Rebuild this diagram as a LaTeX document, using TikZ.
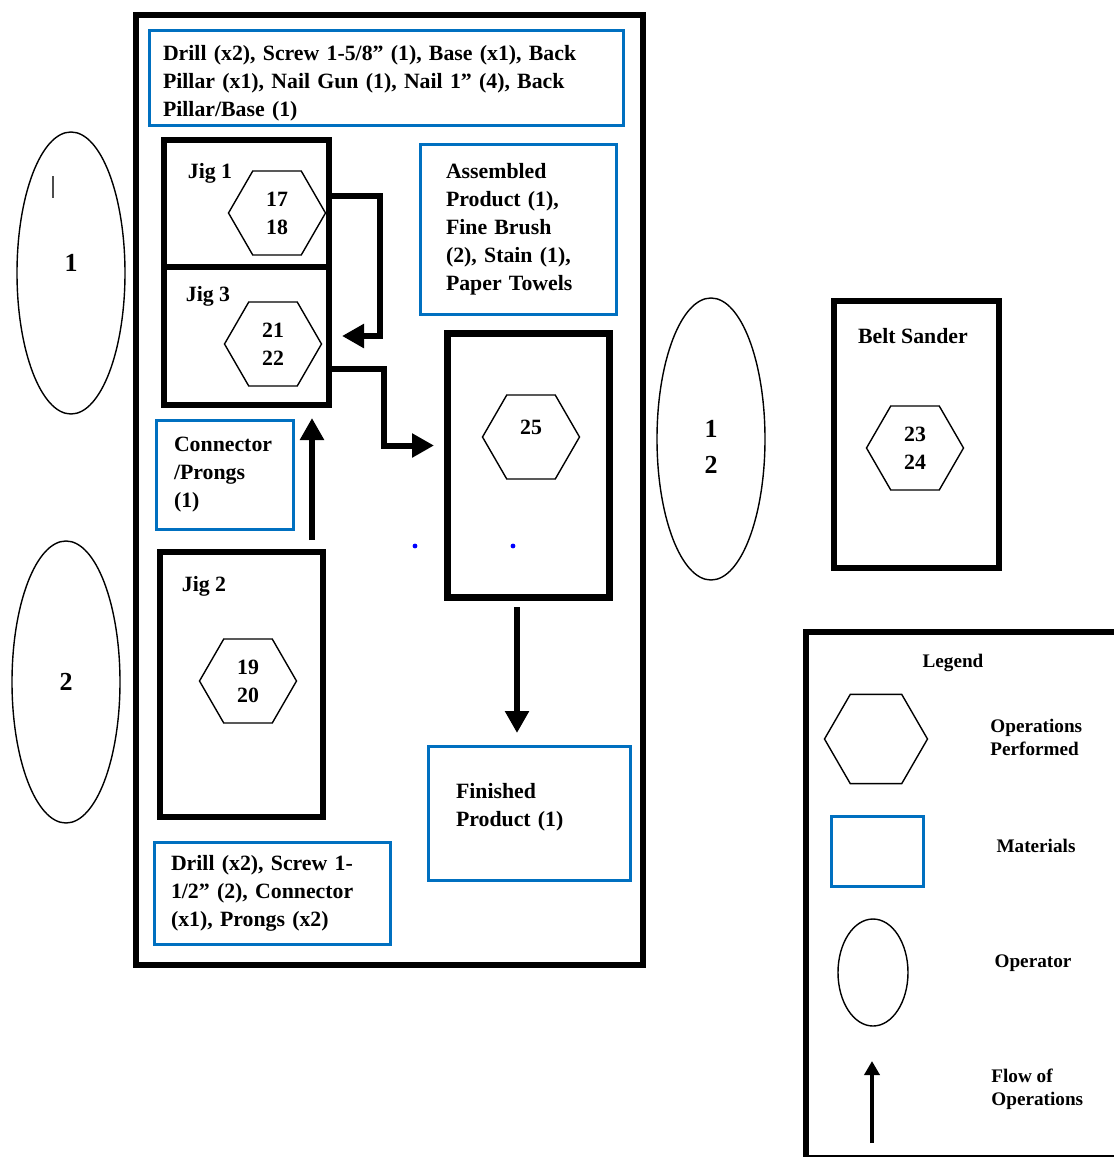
\documentclass[tikz,border=0pt]{standalone}
\usepackage{fontspec}
\setmainfont{Liberation Serif}
\usetikzlibrary{arrows.meta,positioning,shapes.geometric,calc}
\definecolor{matblue}{RGB}{0,112,192}
\newcommand{\mainsz}{\fontsize{10.9}{14}\selectfont\bfseries}
\newcommand{\legsz}{\fontsize{9.6}{11.5}\selectfont\bfseries}
\newcommand{\opsz}{\fontsize{13}{18}\selectfont\bfseries}
\tikzset{
  frame/.style={draw,line width=3pt,inner sep=0pt},
  matbox/.style={draw=matblue,line width=1.5pt,align=left,inner ysep=0pt,font=\mainsz},
  hexop/.style={draw,regular polygon,regular polygon sides=6,line width=0.7pt,
                minimum size=48.5pt,inner sep=0pt,align=center,font=\mainsz},
  oper/.style={draw,ellipse,line width=0.7pt,minimum width=54pt,minimum height=141pt,
               inner sep=0pt,align=center,font=\opsz},
  lbl/.style={inner sep=0pt,font=\mainsz},
  leglbl/.style={inner sep=0pt,align=left,font=\legsz},
  flow/.style={-{Triangle[length=11pt,width=11.5pt]},line width=3pt},
  flowthin/.style={-{Triangle[length=7pt,width=7.5pt]},line width=2pt},
}
\begin{document}
\begin{tikzpicture}[x=0.5pt,y=-0.5pt]
  \useasboundingbox (0,0) rectangle (1114,1157);
  \clip (0,0) rectangle (1114,1157);

  \node[frame,minimum width=253.5pt,minimum height=475pt] (cell) at (389.5,490) {};
  \node[matbox,text width=223.5pt,inner xsep=6.75pt,minimum height=47.5pt] (matTop) at (386.5,78)
        {\rule{0pt}{13pt}Drill (x2), Screw 1-5/8” (1), Base (x1), Back\\Pillar (x1), Nail Gun (1), Nail 1” (4), Back\\Pillar/Base (1)};

  \node[frame,minimum width=82.5pt,minimum height=63.5pt] (jigA) at (246.5,203.5) {};
  \node[frame,minimum width=82.5pt,minimum height=69pt] (jigC) at (246.5,336) {};
  \node[frame,minimum width=81.5pt,minimum height=132.5pt] (jigB) at (241.5,684.5) {};
  \node[lbl] (lblJigA) at (210,173) {Jig 1};
  \node[lbl] (lblJigC) at (208,296) {Jig 3};
  \node[lbl] (lblJigB) at (204,586) {Jig 2};
  \node[hexop] (hexA) at (277,213) {17\\18};
  \node[hexop] (hexC) at (273,344) {21\\22};
  \node[hexop] (hexB) at (248,681) {19\\20};

  \node[matbox,text width=72.5pt,inner xsep=12.75pt,minimum height=85pt] (matAsm) at (518.5,229.5)
        {Assembled\\Product (1),\\Fine Brush\\(2), Stain (1),\\Paper Towels};
  \node[matbox,text width=51pt,inner xsep=8.75pt,minimum height=54.5pt] (matCon) at (225,475)
        {Connector\\/Prongs\\(1)};
  \node[matbox,text width=73.5pt,inner xsep=13.75pt,minimum height=67pt] (finished) at (529.5,813.5)
        {Finished\\Product (1)\\[-5pt]\mbox{}};
  \node[matbox,text width=101.5pt,inner xsep=8.25pt,minimum height=51pt] (matBot) at (272.5,893.5)
        {Drill (x2), Screw 1-\\1/2” (2), Connector\\(x1), Prongs (x2)};

  \node[frame,line width=3.5pt,minimum width=81pt,minimum height=132pt] (box25) at (528.5,465.5) {};
  \node[hexop] (hex25) at (531,437) {25\\[-4pt]\mbox{}};
  \fill[blue] (415,546) circle (1.2pt);
  \fill[blue] (513,546) circle (1.2pt);

  \node[oper] (opA) at (71,273) {1\\[-8pt]\mbox{}};
  \node[oper] (opB) at (66,682) {2};
  \node[oper] (opC) at (711,439) {\mbox{}\\[-2pt]1\\2};
  \draw[line width=1pt,black!70] (53,176) -- (53,198);

  \node[frame,minimum width=82.5pt,minimum height=133.5pt] (sander) at (916.5,434.5) {};
  \node[lbl] (lblSander) at (913,336) {Belt Sander};
  \node[hexop] (hexS) at (915,448) {23\\24};

  \draw[flow] ([yshift=3.75pt]jigA.east) -- ++(24pt,0) |- ([xshift=5pt]jigC.east);
  \draw[flow] ([yshift=-16.5pt]jigC.east) -- ++(26pt,0) |- ([xshift=-5pt,yshift=10pt]box25.west);
  \coordinate (upEnd) at ([yshift=-5pt]jigC.south);
  \draw[flow] ([xshift=-7pt,yshift=4.5pt]jigB.north east) coordinate (upStart) -- (upStart |- upEnd);
  \coordinate (downEnd) at ([yshift=6pt]finished.north);
  \draw[flow] ([xshift=-5.75pt,yshift=-3pt]box25.south) coordinate (downStart) -- (downStart |- downEnd);

  \node[frame,minimum width=157pt,minimum height=263pt] (legend) at (963,895) {};
  \node[leglbl] (lblLegend) at (953,663) {Legend};
  \node[hexop,minimum size=51.5pt] (legHex) at (876,739) {};
  \node[leglbl,anchor=west] (lblOps) at (990,737) {Operations\\Performed};
  \node[draw=matblue,line width=1.5pt,minimum width=46pt,minimum height=35pt] (legMat) at (877.5,851.5) {};
  \node[leglbl] (lblMat) at (1036,846) {Materials};
  \node[draw,ellipse,line width=0.7pt,minimum width=35pt,minimum height=53.5pt] (legOp) at (873,972.5) {};
  \node[leglbl] (lblOp) at (1033,963) {Operator};
  \coordinate (flowStart) at (872,1143);
  \draw[flowthin] (flowStart) -- ++(0,-82);
  \node[leglbl,anchor=west] (lblFlow) at (991,1089) {Flow of\\Operations};
\end{tikzpicture}
\end{document}
